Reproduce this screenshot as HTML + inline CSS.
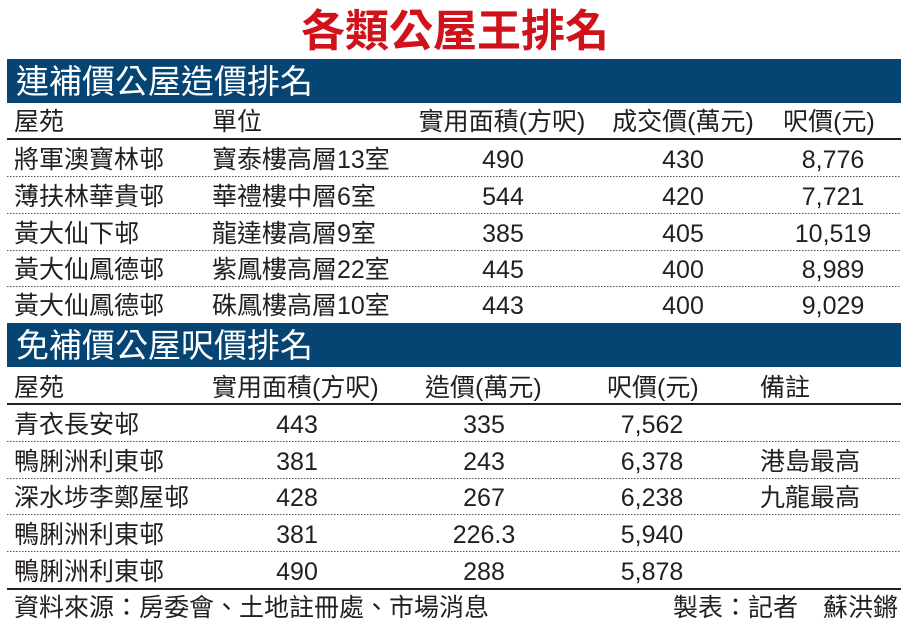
<!DOCTYPE html>
<html><head><meta charset="utf-8"><style>
html,body{margin:0;padding:0;background:#fff}
svg{display:block}
text{font-family:"Liberation Sans","Noto Sans CJK TC",sans-serif;fill:#231f20;font-size:25px}
.c{text-anchor:middle}
</style></head><body>
<svg width="907" height="632" viewBox="0 0 907 632">
<text x="455" y="46" class="c" style="font-size:44px;font-weight:bold;fill:#d0121b">各類公屋王排名</text>
<rect x="7" y="59" width="894" height="44" fill="#064473"/>
<text x="16" y="93" style="font-size:33px;fill:#fff">連補價公屋造價排名</text>
<g>
<text x="14" y="130">屋苑</text><text x="212" y="130">單位</text>
<text x="502" y="130" class="c">實用面積(方呎)</text><text x="683" y="130" class="c">成交價(萬元)</text><text x="829" y="130" class="c">呎價(元)</text>
<rect x="7" y="138" width="894" height="2" fill="#231f20"/>
<text x="14" y="168">將軍澳寶林邨</text><text x="212" y="168">寶泰樓高層13室</text><text x="503" y="168" class="c">490</text><text x="683" y="168" class="c">430</text><text x="833" y="168" class="c">8,776</text>
<line x1="7" y1="176.5" x2="901" y2="176.5" stroke="#555" stroke-dasharray="1.5,1.5"/>
<text x="14" y="205">薄扶林華貴邨</text><text x="212" y="205">華禮樓中層6室</text><text x="503" y="205" class="c">544</text><text x="683" y="205" class="c">420</text><text x="833" y="205" class="c">7,721</text>
<line x1="7" y1="213.5" x2="901" y2="213.5" stroke="#555" stroke-dasharray="1.5,1.5"/>
<text x="14" y="242">黃大仙下邨</text><text x="212" y="242">龍達樓高層9室</text><text x="503" y="242" class="c">385</text><text x="683" y="242" class="c">405</text><text x="833" y="242" class="c">10,519</text>
<line x1="7" y1="250.5" x2="901" y2="250.5" stroke="#555" stroke-dasharray="1.5,1.5"/>
<text x="14" y="278">黃大仙鳳德邨</text><text x="212" y="278">紫鳳樓高層22室</text><text x="503" y="278" class="c">445</text><text x="683" y="278" class="c">400</text><text x="833" y="278" class="c">8,989</text>
<line x1="7" y1="286.5" x2="901" y2="286.5" stroke="#555" stroke-dasharray="1.5,1.5"/>
<text x="14" y="314">黃大仙鳳德邨</text><text x="212" y="314">硃鳳樓高層10室</text><text x="503" y="314" class="c">443</text><text x="683" y="314" class="c">400</text><text x="833" y="314" class="c">9,029</text>
</g>
<rect x="7" y="323" width="894" height="44" fill="#064473"/>
<text x="16" y="357" style="font-size:33px;fill:#fff">免補價公屋呎價排名</text>
<g>
<text x="14" y="396">屋苑</text><text x="212" y="396">實用面積(方呎)</text><text x="425" y="396">造價(萬元)</text><text x="607" y="396">呎價(元)</text><text x="760" y="396">備註</text>
<rect x="7" y="403" width="894" height="2" fill="#231f20"/>
<text x="14" y="433">青衣長安邨</text><text x="297" y="433" class="c">443</text><text x="484" y="433" class="c">335</text><text x="652" y="433" class="c">7,562</text>
<line x1="7" y1="441.5" x2="901" y2="441.5" stroke="#555" stroke-dasharray="1.5,1.5"/>
<text x="14" y="470">鴨脷洲利東邨</text><text x="297" y="470" class="c">381</text><text x="484" y="470" class="c">243</text><text x="652" y="470" class="c">6,378</text><text x="760" y="470">港島最高</text>
<line x1="7" y1="478.5" x2="901" y2="478.5" stroke="#555" stroke-dasharray="1.5,1.5"/>
<text x="14" y="506">深水埗李鄭屋邨</text><text x="297" y="506" class="c">428</text><text x="484" y="506" class="c">267</text><text x="652" y="506" class="c">6,238</text><text x="760" y="506">九龍最高</text>
<line x1="7" y1="514.5" x2="901" y2="514.5" stroke="#555" stroke-dasharray="1.5,1.5"/>
<text x="14" y="543">鴨脷洲利東邨</text><text x="297" y="543" class="c">381</text><text x="484" y="543" class="c">226.3</text><text x="652" y="543" class="c">5,940</text>
<line x1="7" y1="551.5" x2="901" y2="551.5" stroke="#555" stroke-dasharray="1.5,1.5"/>
<text x="14" y="580">鴨脷洲利東邨</text><text x="297" y="580" class="c">490</text><text x="484" y="580" class="c">288</text><text x="652" y="580" class="c">5,878</text>
<rect x="7" y="588" width="894" height="2" fill="#231f20"/>
<text x="14" y="616">資料來源：房委會、土地註冊處、市場消息</text>
<text x="898" y="616" style="text-anchor:end">製表：記者　蘇洪鏘</text>
</g>
</svg>
</body></html>
